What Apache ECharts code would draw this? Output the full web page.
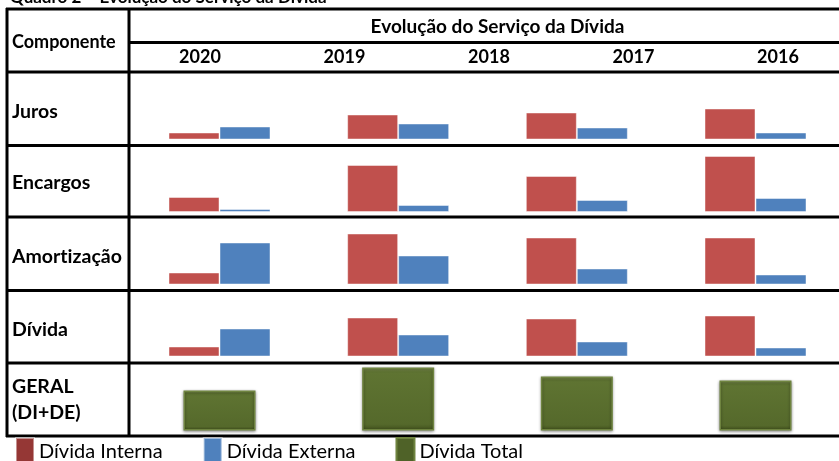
<!DOCTYPE html>
<html>
<head>
<meta charset="utf-8">
<title>Evolução do Serviço da Dívida</title>
<script src="https://cdn.jsdelivr.net/npm/echarts@6/dist/echarts.min.js"></script>
<style>
  html, body { margin: 0; padding: 0; background: #fff; }
  #chart { width: 839px; height: 461px; }
</style>
</head>
<body>
<div id="chart"></div>
<script>
// anos do cabeçalho e grupos de barras (4 grupos visíveis)
const years = ['2020', '2019', '2018', '2017', '2016']
const groups = ['2020', '2019', '2018', '2017']
// \u200C evita a ligadura "ti" da fonte
const rowNames = ['Juros', 'Encargos', 'Amort\u200Cização', 'Dívida']

// alturas (unidades arbitrárias)
const internaJuros = [7, 25, 27, 31]
const externaJuros = [13, 16, 12, 7]
const internaEncargos = [15, 47, 36, 56]
const externaEncargos = [3, 7, 12, 14]
const internaAmortizacao = [12, 51, 47, 47]
const externaAmortizacao = [42, 29, 16, 10]
const internaDivida = [10, 39, 38, 41]
const externaDivida = [28, 22, 15, 9]
const totalGeral = [40, 63, 54, 50]

const FONT = 'Lato, "Open Sans", sans-serif'
const RED = '#C0504D'
const BLUE = '#4F81BD'

const interna = [internaJuros, internaEncargos, internaAmortizacao, internaDivida]
const externa = [externaJuros, externaEncargos, externaAmortizacao, externaDivida]

// base de cada linha da tabela (px)
const rowBottoms = [139.5, 212, 284.5, 356.5, 430.5]
const ROW_H = 70

const chartDom = document.getElementById('chart')
const myChart = echarts.init(chartDom)

const grids = []
const xAxes = []
const yAxes = []
const series = []

// boundaryGap false: o centro do 1º e do último grupo ficam nas bordas da grid
rowBottoms.forEach((b, i) => {
  grids.push({ left: 219.5, width: 536, top: b - ROW_H, height: ROW_H })
  xAxes.push({ type: 'category', gridIndex: i, data: groups, boundaryGap: false, show: false })
  yAxes.push({ type: 'value', gridIndex: i, min: 0, max: ROW_H, show: false })
})

for (let i = 0; i < 4; i++) {
  series.push({
    name: 'Dívida Interna', type: 'bar', xAxisIndex: i, yAxisIndex: i,
    data: interna[i], barWidth: 51, barGap: '0%',
    itemStyle: { color: RED, borderColor: 'rgba(255,255,255,0.45)', borderWidth: 1 }
  })
  series.push({
    name: 'Dívida Externa', type: 'bar', xAxisIndex: i, yAxisIndex: i,
    data: externa[i], barWidth: 51, barGap: '0%',
    itemStyle: { color: BLUE, borderColor: 'rgba(255,255,255,0.45)', borderWidth: 1 }
  })
}
series.push({
  name: 'Dívida Total', type: 'bar', xAxisIndex: 4, yAxisIndex: 4,
  data: totalGeral, barWidth: 72,
  itemStyle: {
    color: new echarts.graphic.LinearGradient(0, 0, 0, 1, [
      { offset: 0, color: '#8a9c5a' },
      { offset: 0.07, color: '#5f7432' },
      { offset: 0.9, color: '#55692b' },
      { offset: 1, color: '#3f4f1b' }
    ]),
    borderColor: '#6f8440', borderWidth: 1.5,
    shadowColor: 'rgba(0,0,0,0.4)', shadowBlur: 3, shadowOffsetY: 1
  }
})

// eixo só para os anos do cabeçalho
grids.push({ left: 200, width: 578, top: 44, height: 4 })
xAxes.push({
  type: 'category', gridIndex: 5, data: years, boundaryGap: false,
  axisLine: { show: false }, axisTick: { show: false },
  axisLabel: {
    margin: 9, verticalAlign: 'middle',
    color: '#000', fontFamily: FONT, fontWeight: 'bold', fontSize: 18
  }
})
yAxes.push({ type: 'value', gridIndex: 5, show: false })

const line = (x1, y1, x2, y2) => ({
  type: 'line', silent: true,
  shape: { x1, y1, x2, y2 },
  style: { stroke: '#000', lineWidth: 3 }
})
const text = (t, x, y, size, align) => ({
  type: 'text', x, y, silent: true,
  style: {
    text: t, fill: '#000', font: 'bold ' + size + 'px ' + FONT,
    textAlign: align || 'left', textVerticalAlign: 'middle'
  }
})

const graphics = [
  line(6, 9, 845, 9),
  line(7, 8, 7, 437),
  line(129, 8, 129, 437),
  line(129, 42.5, 845, 42.5),
  line(6, 72, 845, 72),
  line(6, 145.5, 845, 145.5),
  line(6, 217, 845, 217),
  line(6, 290.5, 845, 290.5),
  line(6, 363, 845, 363),
  line(6, 436, 845, 436),
  text('Quadro 2 – Evolução do Serviço da Dívida', 10, -2, 17),
  text('Evolução do Serviço da Dívida', 497.5, 27, 19, 'center'),
  text('Componente', 12, 42.5, 18)
]
const rowLabelY = [111.5, 183, 256.5, 330]
rowNames.forEach((n, i) => graphics.push(text(n, 12, rowLabelY[i], 19.5)))
graphics.push(text('GERAL', 12, 386.5, 19.5))
graphics.push(text('(DI+DE)', 12, 413, 19.5))

const option = {
  animation: false,
  backgroundColor: '#fff',
  grid: grids,
  xAxis: xAxes,
  yAxis: yAxes,
  legend: {
    left: 15, top: 437, icon: 'rect', itemWidth: 18, itemHeight: 28, itemGap: 40,
    padding: 0,
    textStyle: { color: '#000', fontFamily: FONT, fontSize: 20 },
    data: [
      { name: 'Dívida Interna', itemStyle: { color: '#953735' } },
      { name: 'Dívida Externa', itemStyle: { color: BLUE } },
      { name: 'Dívida Total', itemStyle: { color: '#4F6228' } }
    ]
  },
  graphic: graphics,
  series: series
}
option && myChart.setOption(option)
</script>
</body>
</html>
